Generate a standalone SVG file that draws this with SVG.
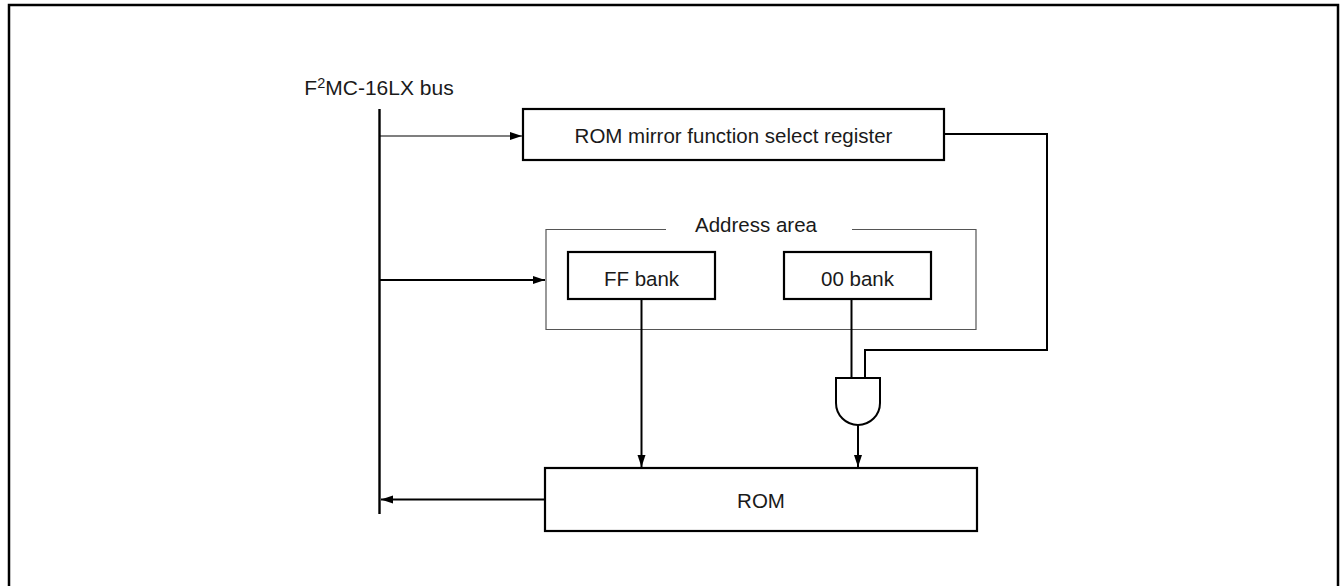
<svg xmlns="http://www.w3.org/2000/svg" width="1340" height="586" viewBox="0 0 1340 586">
<style>
  .box { fill: #fff; stroke: #000; stroke-width: 2.2; }
  .area { fill: none; stroke: #555; stroke-width: 1.2; }
  .wire { fill: none; stroke: #000; stroke-width: 2; }
  .thin { fill: none; stroke: #000; stroke-width: 1.2; }
  .lbl { font-family: "Liberation Sans", Arial, sans-serif; font-size: 20.5px; fill: #1a1a1a; text-anchor: middle; }
</style>
<defs>
  <marker id="ah" markerUnits="userSpaceOnUse" markerWidth="14" markerHeight="10" refX="12" refY="5" orient="auto">
    <path d="M0,1 L12,5 L0,9 Z" fill="#000"/>
  </marker>
</defs>
<rect width="1340" height="586" fill="#fff"/>
<rect id="frame" x="9" y="5" width="1329" height="620" fill="none" stroke="#000" stroke-width="2.5"/>

<g id="bus">
  <line x1="379.5" y1="109" x2="379.5" y2="514" stroke="#000" stroke-width="2.4"/>
  <text class="lbl" x="379" y="95" style="font-size:21px">F<tspan font-size="14.5" dy="-7">2</tspan><tspan dy="7">MC-16LX bus</tspan></text>
</g>

<g id="reg">
  <rect class="box" x="523" y="109" width="421" height="51"/>
  <text class="lbl" x="733.5" y="143">ROM mirror function select register</text>
</g>

<g id="address-area">
  <path class="area" d="M666,229.5 H546 V329.5 H976 V229.5 H852"/>
  <text class="lbl" x="756" y="232">Address area</text>
</g>

<g id="ff-bank">
  <rect class="box" x="568" y="252" width="147" height="47"/>
  <text class="lbl" x="641.5" y="285.5">FF bank</text>
</g>

<g id="bank00">
  <rect class="box" x="784" y="252" width="147" height="47"/>
  <text class="lbl" x="857.5" y="285.5">00 bank</text>
</g>

<g id="and-gate">
  <path class="wire" d="M836,378 H880 V403 A22,22 0 0 1 836,403 Z" fill="#fff"/>
</g>

<g id="rom">
  <rect class="box" x="545" y="468" width="432" height="63"/>
  <text class="lbl" x="761" y="508">ROM</text>
</g>

<g id="connectors">
  <line class="thin" x1="380" y1="136" x2="522" y2="136" marker-end="url(#ah)"/>
  <line class="wire" x1="380" y1="280" x2="545" y2="280" marker-end="url(#ah)"/>
  <polyline class="wire" points="944,134 1047,134 1047,350 865,350 865,378"/>
  <line class="wire" x1="851.5" y1="299" x2="851.5" y2="378"/>
  <line class="wire" x1="641.5" y1="299" x2="641.5" y2="467" marker-end="url(#ah)"/>
  <line class="wire" x1="858" y1="425" x2="858" y2="467" marker-end="url(#ah)"/>
  <line class="wire" x1="545" y1="499.5" x2="381" y2="499.5" marker-end="url(#ah)"/>
</g>
</svg>
